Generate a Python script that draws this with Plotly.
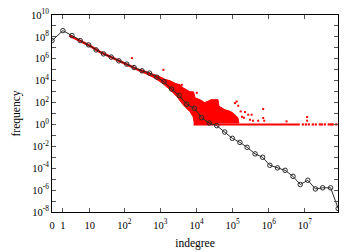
import plotly.graph_objects as go

# ---- binned distribution (black line with open circles) ----
bin_indegree = [0, 1, 2.56, 5.05, 9.3, 15.7, 25.6, 42.5, 70, 116,
                186, 308, 500, 793, 1258, 2041, 3310, 5370, 8710, 13800,
                22400, 36300, 60300, 97700, 158500, 251000, 417000, 676000, 1.07e6, 1.74e6,
                2.82e6, 4.68e6, 7.41e6, 1.20e7, 1.95e7, 3.09e7, 5.13e7, 8.32e7]
bin_freq = [4.57e7, 3.72e8, 1.32e8, 4.57e7, 1.86e7, 6.46e6, 2.82e6, 1.41e6, 6.46e5, 3.24e5,
            1.58e5, 7.94e4, 4.9e4, 2.09e4, 8.0e3, 1.70e3, 447, 70.8, 29.5, 4.17,
            1.35, 0.776, 0.204, 0.0537, 0.0229, 8.13e-3, 2.04e-3, 1e-3, 1.86e-4, 1.07e-4,
            6.46e-5, 1.82e-5, 3.24e-6, 7.94e-6, 1.29e-6, 1.62e-6, 1.62e-6, 2.09e-8]

# ---- raw distribution (red points) ----
band_indegree = [2, 5, 10, 20, 40, 70, 120, 200, 274]
band_freq = [1.4e8, 4.7e7, 1.6e7, 4.3e6, 1.5e6, 6.5e5, 3.1e5, 1.45e5, 8.3e4]

blob_indegree = [274, 518, 981, 1349, 1854, 2547, 3499, 4236, 6606, 8260,
                 9099, 12500, 17180, 20800, 25180, 39260, 41880, 61240, 84140, 108600,
                 140000, 149000, 40000, 30000, 8810, 8000, 6606, 4236, 2891, 1854,
                 1188, 714, 376, 274]
blob_freq = [1.10e5, 5.25e4, 2.24e4, 1.32e4, 9.77e3, 5.75e3, 4.17e3, 2.24e3, 955, 955,
             275, 182, 95.5, 132, 182, 182, 45.7, 21.9, 16.2, 9.5,
             4.07, 1.35, 1.35, 1, 1, 5.13, 14.5, 63.1, 339, 1479,
             5129, 1.66e4, 4.68e4, 6.46e4]

out_indegree = [161, 1210, 3900, 10140, 19140, 26300, 115900, 128800, 142900, 166300,
                205000, 218800, 269800, 300600, 335000, 363900, 509000, 699800, 699800, 746000,
                3.10e6, 1.15e7, 1.15e7, 181000]
out_freq = [1.15e6, 9.77e4, 4170, 776, 107, 43.7, 89, 126, 51.3, 15.5,
            4.07, 13.5, 7.76, 2.69, 7.76, 2.19, 2.19, 25.7, 3.89, 2.19,
            1.91, 4.79, 2.19, 5.0]

ones_indegree = [8260, 7.23e6]
ones_freq = [1, 1]
tail_indegree = [8.75e6, 1.06e7, 1.28e7, 1.65e7, 2.00e7, 2.58e7, 2.93e7, 3.55e7,
                 4.57e7, 5.19e7, 5.89e7, 7.36e7]
tail_freq = [1, 1, 1, 1, 1, 1, 1, 1, 1, 1, 1, 1]

# ---- axis ticks ----
x_tick_indegree = [0, 1, 10, 100, 1000, 10000, 100000, 1000000, 10000000]
x_tick_text = ['0', '1', '10', '10<sup>2</sup>', '10<sup>3</sup>', '10<sup>4</sup>',
               '10<sup>5</sup>', '10<sup>6</sup>', '10<sup>7</sup>']
y_major_exponents = [-8, -6, -4, -2, 0, 2, 4, 6, 8, 10]
y_minor_exponents = [-7, -5, -3, -1, 1, 3, 5, 7, 9]

RED = '#ff0000'
INK = '#2a2a2a'
shift = lambda vals: [v + 1 for v in vals]

fig = go.Figure()
fig.add_trace(go.Scatter(x=shift(blob_indegree), y=blob_freq, mode='lines', fill='toself',
                         fillcolor=RED, line=dict(color=RED, width=1), hoverinfo='skip'))
fig.add_trace(go.Scatter(x=shift(band_indegree), y=band_freq, mode='lines',
                         line=dict(color=RED, width=2.5)))
fig.add_trace(go.Scatter(x=shift(ones_indegree), y=ones_freq, mode='lines',
                         line=dict(color=RED, width=2)))
fig.add_trace(go.Scatter(x=shift(tail_indegree), y=tail_freq, mode='markers',
                         marker=dict(color=RED, symbol='square', size=2.2, line=dict(width=0))))
fig.add_trace(go.Scatter(x=shift(out_indegree), y=out_freq, mode='markers',
                         marker=dict(color=RED, symbol='square', size=2, line=dict(width=0))))
fig.add_trace(go.Scatter(x=shift(bin_indegree), y=bin_freq, mode='lines+markers',
                         line=dict(color=INK, width=1),
                         marker=dict(symbol='circle-open', size=4.5, color=INK,
                                     line=dict(width=1, color=INK))))

font_family = 'Liberation Serif'
fig.update_layout(
    template='none',
    width=360, height=252,
    margin=dict(l=52, r=22, t=15, b=40),
    paper_bgcolor='white', plot_bgcolor='white',
    showlegend=False,
    font=dict(family=font_family, size=11, color='black'),
    xaxis=dict(type='log', range=[0, 7.915],
               tickmode='array', tickvals=shift(x_tick_indegree), ticktext=x_tick_text,
               ticks='inside', ticklen=4, tickcolor='#555555', tickwidth=1,
               ticklabelstandoff=3,
               showline=True, linecolor='black', linewidth=1, mirror='ticks',
               showgrid=False, zeroline=False,
               tickfont=dict(family=font_family, size=10.5, color='black'),
               title=dict(text='indegree', font=dict(family=font_family, size=11.5, color='black'),
                          standoff=9)),
    yaxis=dict(type='log', range=[-8, 10],
               tickmode='array', tickvals=[10.0 ** e for e in y_major_exponents],
               ticktext=['10<sup>%d</sup>' % e for e in y_major_exponents],
               ticks='inside', ticklen=4, tickcolor='#555555', tickwidth=1,
               minor=dict(tickmode='array', tickvals=[10.0 ** e for e in y_minor_exponents],
                          ticks='inside', ticklen=4, tickcolor='#555555', tickwidth=1,
                          showgrid=False),
               showline=True, linecolor='black', linewidth=1, mirror='ticks',
               showgrid=False, zeroline=False,
               tickfont=dict(family=font_family, size=10.5, color='black'),
               title=dict(text='frequency', font=dict(family=font_family, size=11.5, color='black'),
                          standoff=8)),
)

fig.write_html("out.html")
